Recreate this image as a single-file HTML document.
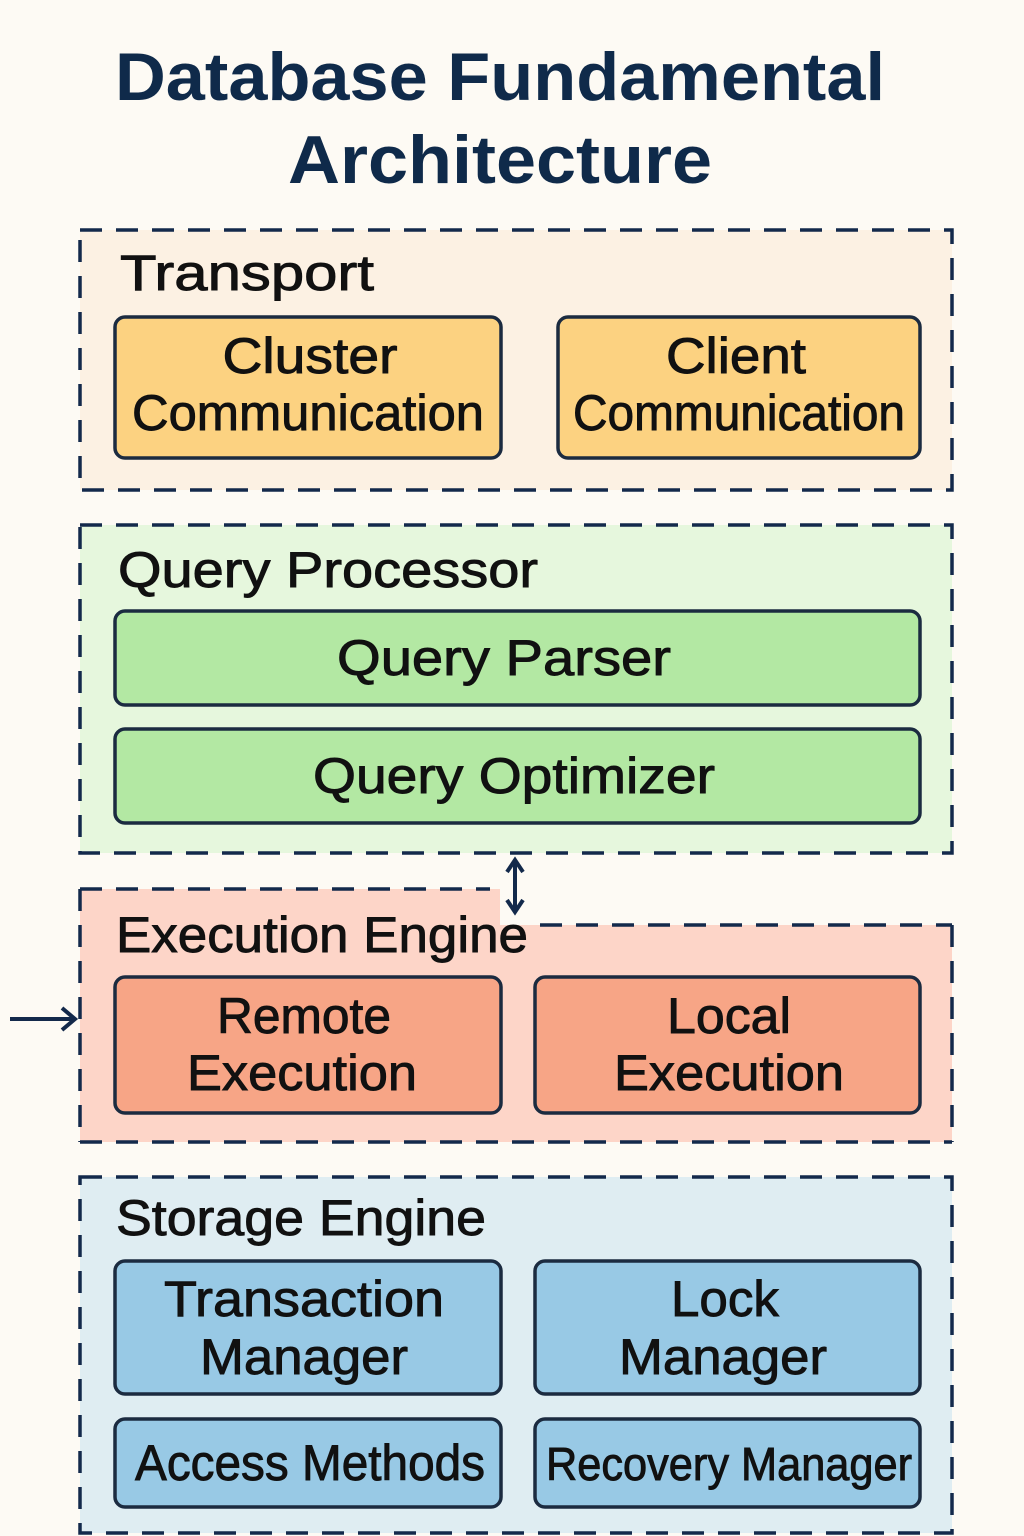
<!DOCTYPE html>
<html><head><meta charset="utf-8"><style>
html,body{margin:0;padding:0;background:#fdfaf4;}
svg{display:block;}
text{font-family:"Liberation Sans","DejaVu Sans",sans-serif;fill:#111;stroke:#111;stroke-width:0.9;}
.t{font-size:50px;text-anchor:middle;}
.h{font-size:50px;}
.box{stroke:#1b2b40;stroke-width:3.5;}
.grp{stroke:#13294b;stroke-width:3.5;stroke-dasharray:22 14;}
</style></head><body>
<svg width="1024" height="1536" viewBox="0 0 1024 1536">
<rect width="1024" height="1536" fill="#fdfaf4"/>
<text x="500" y="100" style="font-size:68px;font-weight:bold;fill:#0f2a4a;stroke:none;text-anchor:middle" textLength="770" lengthAdjust="spacingAndGlyphs">Database Fundamental</text>
<text x="500" y="183" style="font-size:68px;font-weight:bold;fill:#0f2a4a;stroke:none;text-anchor:middle" textLength="424" lengthAdjust="spacingAndGlyphs">Architecture</text>

<rect x="80" y="230" width="872" height="260" fill="#fcf1e3" class="grp"/>
<text x="120" y="290" class="h" textLength="254" lengthAdjust="spacingAndGlyphs">Transport</text>
<rect x="115" y="317" width="386" height="141" rx="10" fill="#fcd281" class="box"/>
<text x="310" y="373" class="t" textLength="175" lengthAdjust="spacingAndGlyphs">Cluster</text>
<text x="308" y="430" class="t" textLength="352" lengthAdjust="spacingAndGlyphs">Communication</text>
<rect x="558" y="317" width="362" height="141" rx="10" fill="#fcd281" class="box"/>
<text x="736" y="373" class="t" textLength="140" lengthAdjust="spacingAndGlyphs">Client</text>
<text x="739" y="430" class="t" textLength="332" lengthAdjust="spacingAndGlyphs">Communication</text>

<rect x="80" y="525" width="872" height="328" fill="#e6f7dd" class="grp"/>
<text x="118" y="587" class="h" textLength="420" lengthAdjust="spacingAndGlyphs">Query Processor</text>
<rect x="115" y="611" width="805" height="94" rx="10" fill="#b3e8a3" class="box"/>
<text x="504" y="675" class="t" textLength="334" lengthAdjust="spacingAndGlyphs">Query Parser</text>
<rect x="115" y="729" width="805" height="94" rx="10" fill="#b3e8a3" class="box"/>
<text x="514" y="793" class="t" textLength="402" lengthAdjust="spacingAndGlyphs">Query Optimizer</text>

<g stroke="#13294b" stroke-width="4" fill="none">
<line x1="515" y1="862" x2="515" y2="910"/>
<polyline points="507,872 515,860 523,872"/>
<polyline points="507,900 515,912 523,900"/>
</g>

<path d="M80,889 L500,889 L500,925 L952,925 L952,1142 L80,1142 Z" fill="#fdd5c8"/>
<g class="grp" fill="none">
<line x1="80" y1="889" x2="490" y2="889"/>
<line x1="540" y1="925" x2="952" y2="925"/>
<line x1="952" y1="925" x2="952" y2="1142"/>
<line x1="80" y1="1142" x2="952" y2="1142"/>
<line x1="80" y1="889" x2="80" y2="1142"/>
</g>
<text x="116" y="952" class="h" textLength="412" lengthAdjust="spacingAndGlyphs">Execution Engine</text>
<rect x="115" y="977" width="386" height="136" rx="10" fill="#f7a586" class="box"/>
<text x="304" y="1033" class="t" textLength="174" lengthAdjust="spacingAndGlyphs">Remote</text>
<text x="302" y="1090" class="t" textLength="230" lengthAdjust="spacingAndGlyphs">Execution</text>
<rect x="535" y="977" width="385" height="136" rx="10" fill="#f7a586" class="box"/>
<text x="729" y="1033" class="t" textLength="124" lengthAdjust="spacingAndGlyphs">Local</text>
<text x="729" y="1090" class="t" textLength="230" lengthAdjust="spacingAndGlyphs">Execution</text>
<g stroke="#13294b" stroke-width="4" fill="none">
<line x1="10" y1="1019" x2="74" y2="1019"/>
<polyline points="62,1008 75,1019 62,1030"/>
</g>

<rect x="80" y="1177" width="872" height="356" fill="#dfedf2" class="grp"/>
<text x="116" y="1235" class="h" textLength="370" lengthAdjust="spacingAndGlyphs">Storage Engine</text>
<rect x="115" y="1261" width="386" height="133" rx="10" fill="#98c9e5" class="box"/>
<text x="304" y="1316" class="t" textLength="280" lengthAdjust="spacingAndGlyphs">Transaction</text>
<text x="304" y="1374" class="t" textLength="208" lengthAdjust="spacingAndGlyphs">Manager</text>
<rect x="535" y="1261" width="385" height="133" rx="10" fill="#98c9e5" class="box"/>
<text x="725" y="1316" class="t" textLength="108" lengthAdjust="spacingAndGlyphs">Lock</text>
<text x="723" y="1374" class="t" textLength="208" lengthAdjust="spacingAndGlyphs">Manager</text>
<rect x="115" y="1419" width="386" height="88" rx="10" fill="#98c9e5" class="box"/>
<text x="310" y="1480" class="t" textLength="350" lengthAdjust="spacingAndGlyphs">Access Methods</text>
<rect x="535" y="1419" width="385" height="88" rx="10" fill="#98c9e5" class="box"/>
<text x="729" y="1480" class="t" style="font-size:46px" textLength="366" lengthAdjust="spacingAndGlyphs">Recovery Manager</text>
</svg>
</body></html>
